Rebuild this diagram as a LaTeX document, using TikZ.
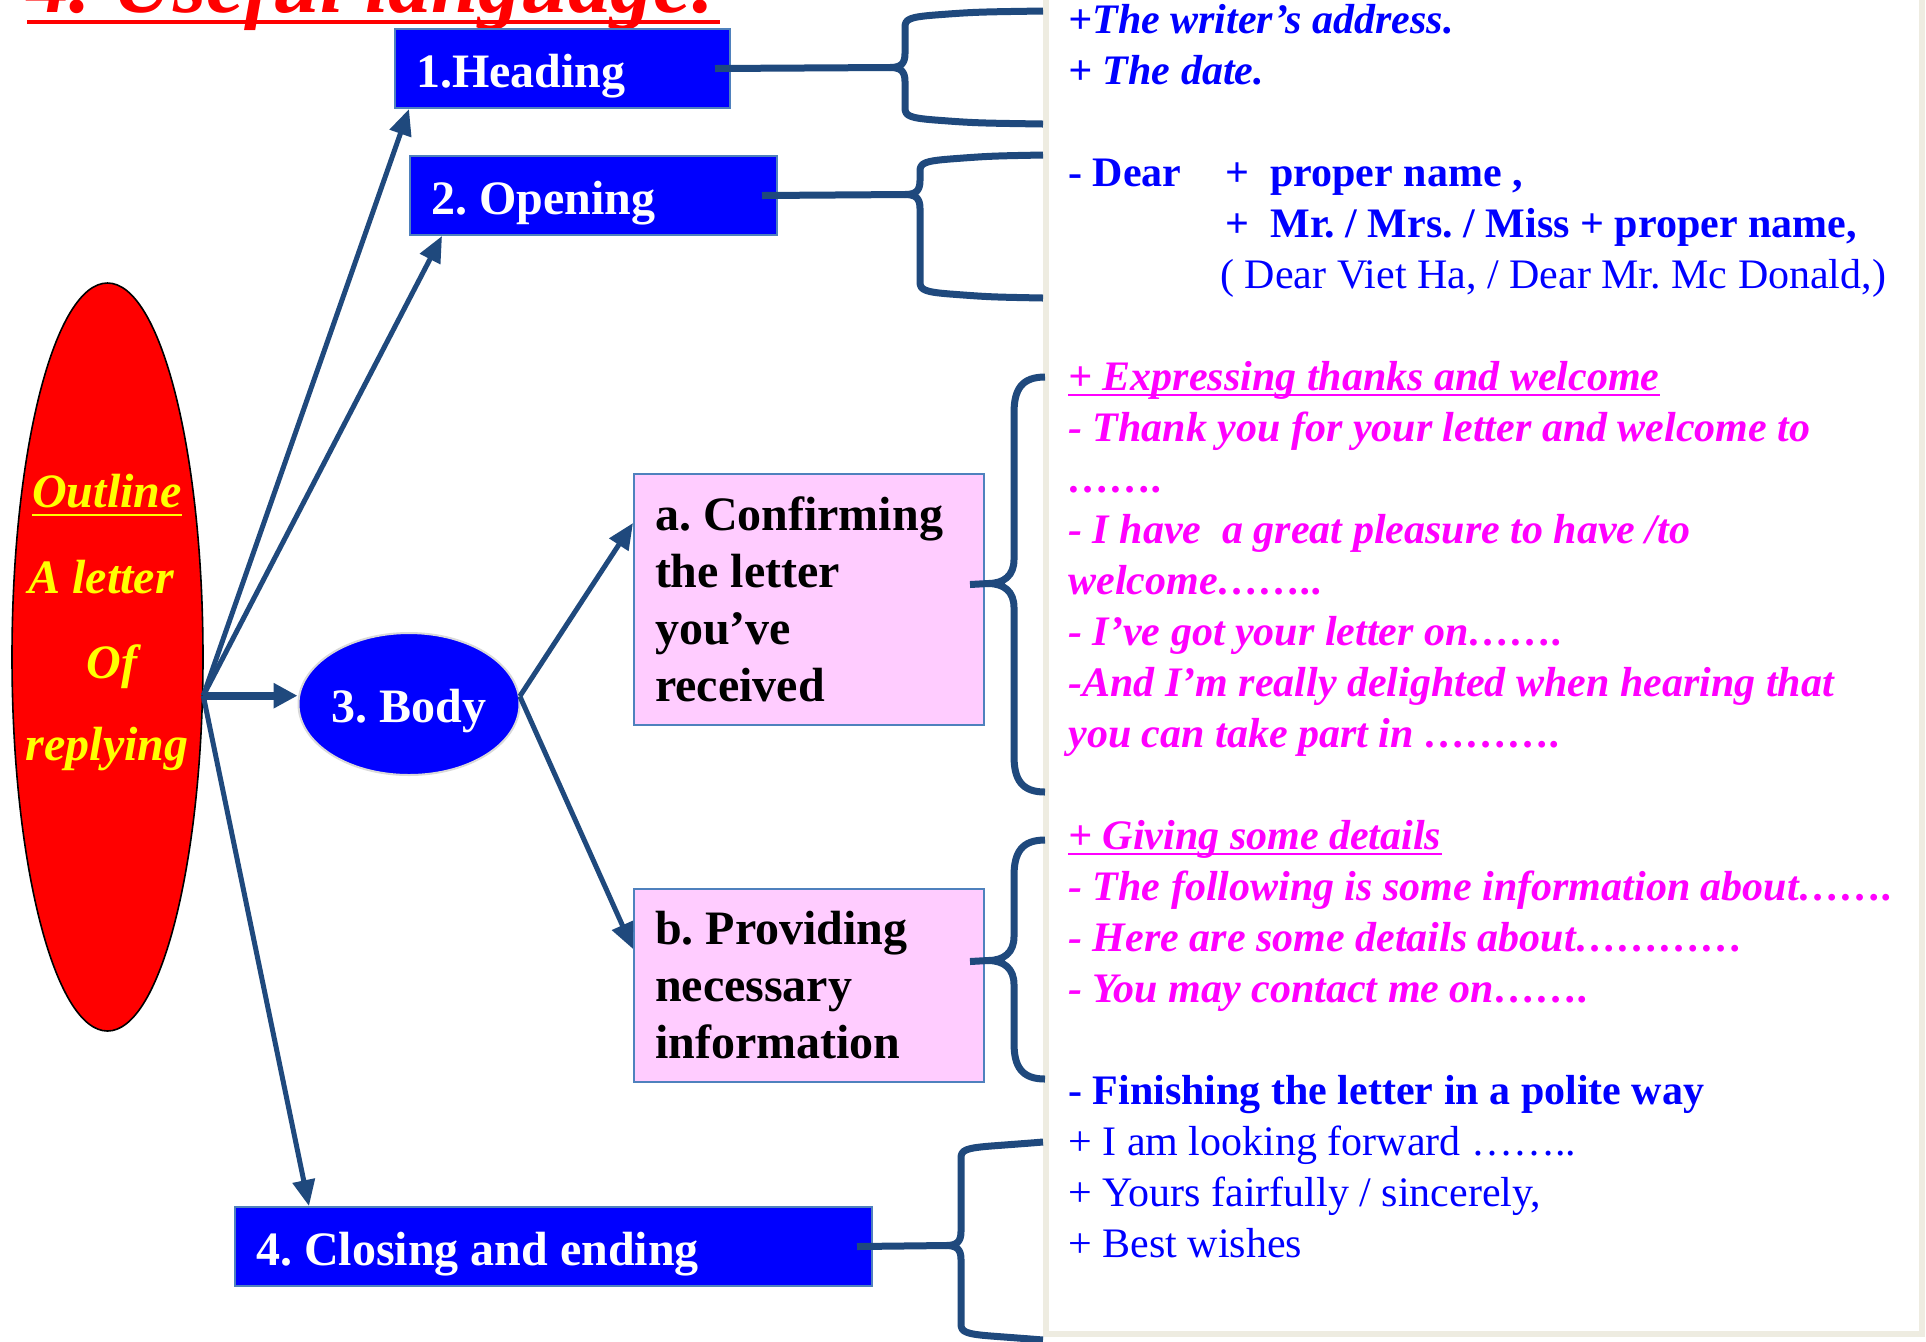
\documentclass[tikz,border=0pt]{standalone}
\usepackage{fontspec}
\setmainfont{Liberation Serif}
\usetikzlibrary{shapes.geometric, arrows.meta, positioning}
\definecolor{linkblue}{HTML}{1F497D}
\definecolor{partblue}{HTML}{0000FF}
\definecolor{boxrule}{HTML}{4F81BD}
\definecolor{pinkfill}{HTML}{FFCCFF}
\definecolor{phrasepink}{HTML}{FF00FF}
\definecolor{panelrule}{HTML}{EEECE1}
\definecolor{ovalred}{HTML}{FF0000}
\definecolor{ovaltext}{HTML}{FFFF00}
\frenchspacing
\newcommand{\panelx}{1043}
\newcommand{\panelline}[4]{% line no., x-start, style, text
  \node[#3, anchor=base west] (line#1) at (#2, 33+51*#1) {#4};
}
\newcommand{\armbrace}[5]{% stem start, x back, y top, y stem, y bottom  (long arms)
  \draw[bracket] (#1) -- (#2-15,#4);
  \draw[bracket] (\panelx,#3) .. controls (#2+70,#3+1) .. (#2+30,#3+4)
    .. controls (#2+5,#3+6) and (#2,#3+8) .. (#2,#3+16) -- (#2,#4-14)
    .. controls (#2,#4-4) and (#2-4,#4) .. (#2-15,#4)
    .. controls (#2-4,#4) and (#2,#4+4) .. (#2,#4+14) -- (#2,#5-16)
    .. controls (#2,#5-8) and (#2+5,#5-6) .. (#2+30,#5-4)
    .. controls (#2+70,#5-1) .. (\panelx,#5);
}
\newcommand{\curlbrace}[4]{% stem start, y top, y stem, y bottom  (back at x=1014)
  \draw[bracket] (#1) -- (988,#3);
  \draw[bracket] (1045,#2) .. controls (1022,#2) and (1014,#2+12) .. (1014,#2+36)
    -- (1014,#3-24) .. controls (1014,#3-8) and (1004,#3) .. (988,#3)
    .. controls (1004,#3) and (1014,#3+8) .. (1014,#3+24)
    -- (1014,#4-36) .. controls (1014,#4-12) and (1022,#4) .. (1045,#4);
}
\tikzset{
  partbox/.style={draw=boxrule, line width=1pt, fill=partblue, text=white,
    font=\fontsize{24}{28.5}\selectfont\bfseries, anchor=north west,
    inner xsep=10.5pt, inner ysep=0pt, align=flush left, text height=29pt, text depth=10.5pt},
  stepbox/.style={draw=boxrule, line width=1pt, fill=pinkfill, text=black,
    font=\fontsize{24}{28.5}\selectfont\bfseries, anchor=north west,
    inner xsep=10.5pt, align=flush left, text width=154pt},
  bodyoval/.style={ellipse, draw=black!15, line width=1pt, fill=partblue, text=white,
    font=\fontsize{24}{28.5}\selectfont\bfseries, inner sep=0pt,
    minimum width=110.5pt, minimum height=71pt, text height=23pt, text depth=5pt},
  outlineoval/.style={ellipse, draw=black, line width=0.8pt, fill=ovalred,
    minimum width=95.5pt, minimum height=374pt, inner sep=0pt},
  ovaltxt/.style={text=ovaltext, font=\fontsize{24}{28}\selectfont\bfseries\itshape,
    anchor=base, inner sep=0pt},
  headtxt/.style={text=partblue, font=\fontsize{21}{25}\selectfont\bfseries\itshape, inner sep=0pt},
  optxt/.style={text=partblue, font=\fontsize{21}{25}\selectfont\bfseries, inner sep=0pt},
  plaintxt/.style={text=partblue, font=\fontsize{21}{25}\selectfont, inner sep=0pt},
  phrasetxt/.style={text=phrasepink, font=\fontsize{21}{25}\selectfont\bfseries\itshape, inner sep=0pt},
  link/.style={linkblue, line width=2.5pt, -{Triangle[length=13pt, width=11pt]}},
  bracket/.style={linkblue, line width=3.5pt, line join=round},
}
\begin{document}
\begin{tikzpicture}[x=0.5pt, y=-0.5pt]
  \path[use as bounding box, fill=white] (0,0) rectangle (1926,1341);
  \clip (0,0) rectangle (1926,1341);

  % Title (cut by the top edge)
  \node[text=ovalred, font=\fontsize{42.5}{46}\selectfont\bfseries\itshape,
        anchor=base west, inner sep=0pt] (title) at (27,12) {4. Useful language:};
  \draw[ovalred, line width=2pt] ([yshift=-5pt]title.base west) -- ([yshift=-5pt]title.base east);

  % Panel on the right
  \draw[panelrule, line width=3pt] (1046,-20) rectangle (1922,1334);

  % Outline oval
  \node[outlineoval] (outline) at (107.5,657) {};
  \node[ovaltxt] (oline1) at (107,507) {Outline};
  \draw[ovaltext, line width=1.2pt] ([yshift=-4pt]oline1.base west) -- ([yshift=-4pt]oline1.base east);
  \node[ovaltxt] (oline2) at (101,593) {A letter};
  \node[ovaltxt] (oline3) at (112,678) {Of};
  \node[ovaltxt] (oline4) at (107,760) {replying};

  % Parts of the letter
  \node[partbox, text width=146.5pt] (heading) at (394,28) {1.Heading};
  \node[partbox, text width=162.5pt] (opening) at (409,155) {2. Opening};
  \node[bodyoval] (body) at (409,704) {3. Body};
  \node[partbox, text width=297.5pt] (closing) at (234,1206) {4. Closing and ending};
  \node[stepbox, minimum height=125.5pt] (boxa) at (633,473)
    {a. Confirming\\the letter\\you’ve\\received};
  \node[stepbox, minimum height=96.5pt] (boxb) at (633,888)
    {b. Providing\\necessary\\information};

  % Arrows
  \coordinate (fork) at (outline.-22);
  \draw[link] (fork) -- ([xshift=7.5pt]heading.south west);
  \draw[link] (fork) -- ([xshift=16.5pt]opening.south west);
  \draw[link, line width=4pt, -{Triangle[length=12pt, width=12pt]}] (fork) -- (fork -| body.west);
  \draw[link] (fork) -- ([xshift=37.5pt]closing.north west);
  \draw[link] (body.4) -- ([yshift=-25pt]boxa.north west);
  \draw[link] (body.4) -- ([yshift=-30.5pt]boxb.north west);

  % Braces to the panel
  \armbrace{[xshift=-8pt]heading.east}{905}{11}{67.5}{124}
  \armbrace{[xshift=-8pt]opening.east}{920}{155}{194.5}{298}
  \armbrace{[xshift=-8pt]closing.east}{961}{1142}{1245.5}{1340}
  \curlbrace{[xshift=-7.5pt,yshift=7.5pt]boxa.east}{377}{583.5}{792}
  \curlbrace{[xshift=-7.5pt,yshift=12pt]boxb.east}{840}{960.5}{1079}

  % Heading
  \panelline{0}{1068}{headtxt}{+The writer’s address.}
  \panelline{1}{1068}{headtxt}{+ The date.}
  % Opening
  \panelline{3}{1068}{optxt}{\makebox[78.5pt][l]{- Dear}+\ \ proper name ,}
  \panelline{4}{1225}{optxt}{+\ \ Mr. / Mrs. / Miss + proper name,}
  \panelline{5}{1220}{plaintxt}{( Dear Viet Ha, / Dear Mr. Mc Donald,)}
  % Body a
  \panelline{7}{1068}{phrasetxt}{+ Expressing thanks and welcome}
  \draw[phrasepink, line width=1.3pt] ([yshift=-2.5pt]line7.base west) -- ([yshift=-2.5pt]line7.base east);
  \panelline{8}{1068}{phrasetxt}{- Thank you for your letter and welcome to}
  \panelline{9}{1068}{phrasetxt}{…….}
  \panelline{10}{1068}{phrasetxt}{- I have\ \ a great pleasure to have /to}
  \panelline{11}{1068}{phrasetxt}{welcome……..}
  \panelline{12}{1068}{phrasetxt}{- I’ve got your letter on…….}
  \panelline{13}{1068}{phrasetxt}{-And I’m really delighted when hearing that}
  \panelline{14}{1068}{phrasetxt}{you can take part in ……….}
  % Body b
  \panelline{16}{1068}{phrasetxt}{+ Giving some details}
  \draw[phrasepink, line width=1.3pt] ([yshift=-2.5pt]line16.base west) -- ([yshift=-2.5pt]line16.base east);
  \panelline{17}{1068}{phrasetxt}{- The following is some information about…….}
  \panelline{18}{1068}{phrasetxt}{- Here are some details about…………}
  \panelline{19}{1068}{phrasetxt}{- You may contact me on…….}
  % Closing
  \panelline{21}{1068}{optxt}{- Finishing the letter in a polite way}
  \panelline{22}{1068}{plaintxt}{+ I am looking forward ……..}
  \panelline{23}{1068}{plaintxt}{+ Yours fairfully / sincerely,}
  \panelline{24}{1068}{plaintxt}{+ Best wishes}
\end{tikzpicture}
\end{document}
